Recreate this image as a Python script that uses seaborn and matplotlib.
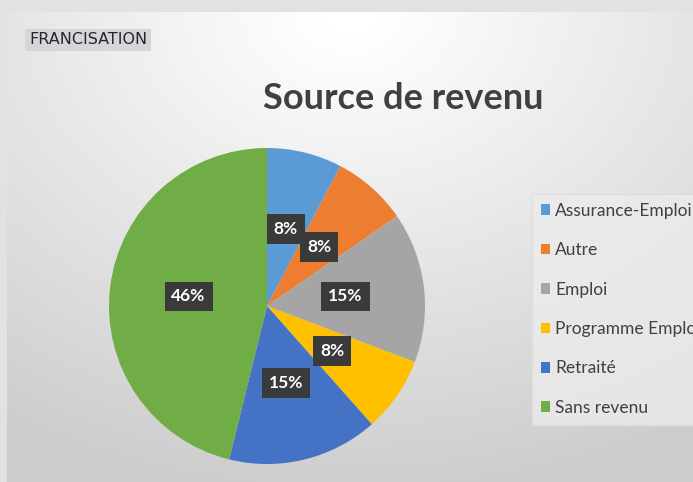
import numpy as np
import matplotlib.pyplot as plt
import seaborn as sns

sns.set_theme(style="white")
plt.rcParams['font.family'] = ['Lato', 'DejaVu Sans']

# data
categories = ['Assurance-Emploi', 'Autre', 'Emploi', 'Programme Emploi', 'Retraité', 'Sans revenu']
counts = [1, 1, 2, 1, 2, 6]
colors = ['#5B9BD5', '#ED7D31', '#A5A5A5', '#FFC000', '#4472C4', '#70AD47']
title = 'Source de revenu'
tag = 'FRANCISATION'

W, H = 693, 482
fig = plt.figure(figsize=(W / 100, H / 100), dpi=100)
fig.patch.set_facecolor('#e2e2e2')

# background gradient of the chart area
bg = fig.add_axes([7 / W, 0, 1 - 7 / W, 1 - 12 / H])
yy, xx = np.mgrid[0:1:200j, 0:1:300j]
shade = 1 - 0.20 * np.clip(np.sqrt(((xx - 0.5) * 1.1) ** 2 + (yy * 1.0) ** 2) - 0.05, 0, 1)
bg.imshow(np.dstack([shade] * 3), aspect='auto', extent=[0, 1, 1, 0], vmin=0, vmax=1)
bg.set_axis_off()

# pie
r = 158
ax = fig.add_axes([(267 - r) / W, (H - 306 - r) / H, 2 * r / W, 2 * r / H])
wedges, texts, autotexts = ax.pie(
    counts, colors=colors, startangle=90, counterclock=False,
    autopct='%1.0f%%', pctdistance=0.5,
    wedgeprops=dict(linewidth=0),
    textprops=dict(color='white', fontsize=12.5, fontweight='bold'))
for t in autotexts:
    t.set_bbox(dict(boxstyle='square,pad=0.4', facecolor='#3a3a3a', edgecolor='none'))
ax.set_xlim(-1, 1)
ax.set_ylim(-1, 1)
ax.set_aspect('equal')

fig.text(403 / W, 1 - 99 / H, title, ha='center', va='center',
         fontsize=26, fontweight='bold', color='#404040')
fig.text(29 / W, 1 - 40 / H, tag, ha='left', va='center', fontsize=11.5, color='#262633',
         family='DejaVu Sans',
         bbox=dict(boxstyle='square,pad=0.25', facecolor='#d6d6d6', edgecolor='none'))

leg = fig.legend(wedges, categories, loc='upper left',
                 bbox_to_anchor=(532 / W, 1 - 194 / H), frameon=True,
                 fontsize=12.5, handlelength=0.55, handleheight=0.55, handletextpad=0.3,
                 labelspacing=1.35, borderpad=0.5, borderaxespad=0, labelcolor='#404040')
leg.get_frame().set_facecolor('#ececec')
leg.get_frame().set_edgecolor('#dddddd')
leg.get_frame().set_boxstyle('square', pad=0)

fig.savefig('out.png', dpi=100, facecolor=fig.get_facecolor())
